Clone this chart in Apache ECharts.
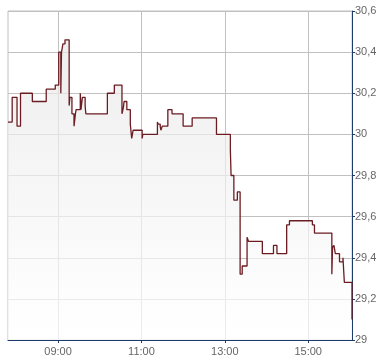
<!DOCTYPE html>
<html><head><meta charset="utf-8">
<script src="https://cdn.jsdelivr.net/npm/echarts@6/dist/echarts.min.js"></script>
<style>html,body{margin:0;padding:0;background:#fff}#c{width:390px;height:364px}</style>
</head><body><div id="c"></div>
<script>
// Times (HH:MM) and price levels starting at each time (step chart)
const times = ["07:48","07:54","08:01","08:06","08:23","08:43","08:56","09:01","09:04","09:05","09:07","09:10",
  "09:16","09:17","09:20","09:23","09:25","09:26","09:32","09:33","09:35","09:39","09:40",
  "10:11","10:21","10:32","10:34","10:35","10:39","10:44","10:46","10:48",
  "11:01","11:02","11:23","11:24","11:27","11:28","11:30","11:38","11:44",
  "12:00","12:13","12:48","13:08","13:09","13:13","13:18","13:22","13:25","13:32","13:34","13:54",
  "14:10","14:15","14:29","14:33","15:06","15:09","15:34","15:35","15:37","15:39","15:45","15:50","15:52","16:03"];
const prices = [30.06,30.18,30.04,30.20,30.16,30.22,30.24,30.40,30.20,30.40,30.44,30.46,
  30.14,30.18,30.10,30.04,30.10,30.12,30.20,30.12,30.18,30.14,30.10,
  30.20,30.24,30.10,30.13,30.16,30.12,30.05,29.98,30.02,
  29.98,30.00,30.06,30.05,30.04,30.02,30.04,30.12,30.10,
  30.04,30.08,30.00,29.92,29.80,29.68,29.72,29.32,29.36,29.50,29.48,29.42,
  29.46,29.42,29.56,29.58,29.56,29.52,29.32,29.45,29.46,29.42,29.38,29.40,29.28,29.10];
const xTickLabels = ["09:00","11:00","13:00","15:00"];
const yTicks = [29,29.2,29.4,29.6,29.8,30,30.2,30.4,30.6];

const toMin = s => { const p = s.split(':'); return (+p[0])*60 + (+p[1]); };
const pad = n => (n<10?'0':'') + n;
const fmt = m => pad(Math.floor(m/60)) + ':' + pad(m%60);
const data = times.map((t,i) => [toMin(t), prices[i]]);
const xTickVals = xTickLabels.map(toMin);

const axisColor = '#1c3a6a';
const chart = echarts.init(document.getElementById('c'), null, {renderer:'canvas'});
chart.setOption({
  animation:false,
  grid:{left:8, right:38, top:11, bottom:24, show:true, borderColor:'#c0c0c0', borderWidth:1},
  xAxis:{
    type:'value', min:toMin(times[0]), max:toMin(times[times.length-1]),
    axisLine:{show:true, onZero:false, lineStyle:{color:axisColor, width:1}},
    axisTick:{show:true, length:3, customValues:xTickVals, lineStyle:{color:axisColor}},
    axisLabel:{customValues:xTickVals, formatter:v=>fmt(v), color:'#666', fontFamily:'Liberation Sans', fontSize:11, margin:6},
    splitLine:{show:true, lineStyle:{color:'#c0c0c0', width:1}}
  },
  yAxis:{
    type:'value', position:'right', min:yTicks[0], max:yTicks[yTicks.length-1], interval:0.2,
    axisLine:{show:true, lineStyle:{color:axisColor, width:1}},
    axisTick:{show:true, length:3, lineStyle:{color:axisColor}},
    axisLabel:{formatter:v=>String(Math.round(v*10)/10).replace('.',','), color:'#666', fontFamily:'Liberation Sans', fontSize:11, margin:3},
    splitLine:{show:true, lineStyle:{color:'#c0c0c0', width:1}}
  },
  series:[{
    type:'line', step:'end', data:data, symbol:'none',
    lineStyle:{color:'#6b1c22', width:1.3},
    areaStyle:{origin:'start', color:new echarts.graphic.LinearGradient(0,0,0,1,[{offset:0,color:'#e6e6e6'},{offset:1,color:'#ffffff'}])}
  }]
});
</script></body></html>
